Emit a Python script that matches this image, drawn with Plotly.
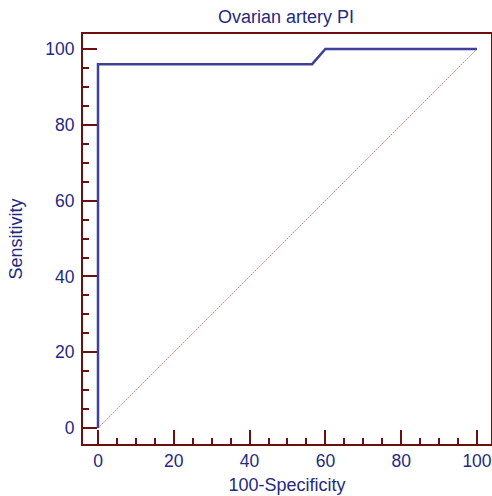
import plotly.graph_objects as go

fpr = [0, 0, 56.5, 60, 100]
tpr = [0, 96, 96, 100, 100]
diag_x = [0, 100]
diag_y = [0, 100]
tick_vals = [0, 20, 40, 60, 80, 100]
tick_text = ["0", "20", "40", "60", "80", "100"]

frame = "#6e0f0f"
txt = "#1f2a80"
curve = "#3d419a"
font_family = "Liberation Sans, Arial"

W, H = 492, 496

fig = go.Figure()
fig.add_trace(go.Scatter(x=diag_x, y=diag_y, mode="lines",
                         line=dict(color="#d08585", width=1, dash="2px,1px"),
                         hoverinfo="skip", showlegend=False))
fig.add_trace(go.Scatter(x=fpr, y=tpr, mode="lines",
                         line=dict(color=curve, width=2.5),
                         showlegend=False))

axis_common = dict(
    showgrid=False, zeroline=False, automargin=False,
    showline=True, linecolor=frame, linewidth=2, mirror=True,
    ticks="inside", ticklen=14, tickwidth=2, tickcolor=frame,
    tickvals=tick_vals, ticktext=tick_text,
    tickfont=dict(family=font_family, size=17.5, color=txt),
    minor=dict(ticks="inside", ticklen=6, tickwidth=2, tickcolor=frame, dtick=5, tick0=0),
)

fig.update_xaxes(range=[-3.96, 103.7],
                 title=dict(text="100-Specificity", standoff=8,
                            font=dict(family=font_family, size=18, color=txt)),
                 **axis_common)
fig.update_yaxes(range=[-4.2, 103.96],
                 ticklabelstandoff=3,
                 title=dict(text="Sensitivity", standoff=18,
                            font=dict(family=font_family, size=18, color=txt)),
                 **axis_common)

fig.update_layout(
    width=W, height=H,
    margin=dict(l=83, r=1, t=34, b=52, autoexpand=False),
    plot_bgcolor="white", paper_bgcolor="white",
    title=dict(text="Ovarian artery PI", x=286 / W, xanchor="center",
               y=1 - 17 / H, yanchor="middle",
               font=dict(family=font_family, size=18, color=txt)),
)

fig.write_html(
    "out.html",
    config={"displayModeBar": False},
    post_script="document.body.style.margin='0';document.body.style.overflow='hidden';",
)
